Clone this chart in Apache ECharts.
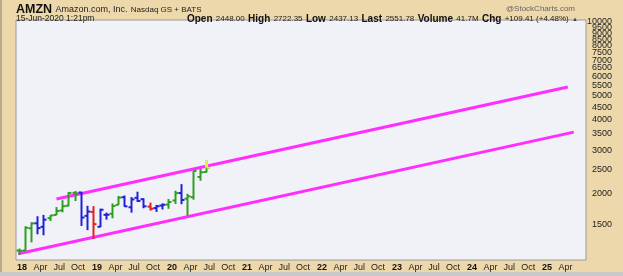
<!DOCTYPE html>
<html>
<head>
<meta charset="utf-8">
<script src="https://cdn.jsdelivr.net/npm/echarts@6/dist/echarts.min.js"></script>
<style>
html,body{margin:0;padding:0;background:#ecd8aa;}
#chart{width:623px;height:276px;}
</style>
</head>
<body>
<div id="chart"></div>
<script>
// Monthly bars, Dec 2017 .. Jun 2020 (mid-month positions)
const months = ['2017-12','2018-01','2018-02','2018-03','2018-04','2018-05','2018-06','2018-07','2018-08','2018-09','2018-10','2018-11','2018-12',
  '2019-01','2019-02','2019-03','2019-04','2019-05','2019-06','2019-07','2019-08','2019-09','2019-10','2019-11','2019-12',
  '2020-01','2020-02','2020-03','2020-04','2020-05','2020-06'];
const opens  = [1172.05,1172.00,1445.00,1513.60,1464.00,1589.00,1637.03,1707.00,1784.00,2014.00,2021.99,1623.53,1684.22,
  1465.20,1638.88,1655.13,1800.11,1933.09,1760.01,1922.98,1898.11,1770.00,1746.00,1788.01,1804.40,
  1875.00,2010.60,1906.49,1934.20,2336.80,2448.00];
const highs  = [1194.78,1472.58,1528.70,1617.54,1638.10,1635.00,1763.10,1880.05,2025.57,2050.50,2033.19,1784.00,1778.34,
  1736.41,1673.06,1823.75,1956.34,1964.40,1935.20,2035.80,1913.89,1838.32,1798.85,1824.69,1901.40,
  2055.72,2185.95,1996.33,2475.00,2525.45,2722.35];
const lows   = [1124.74,1170.51,1265.93,1365.20,1352.88,1546.02,1635.09,1678.06,1776.02,1865.00,1476.36,1420.00,1307.00,
  1460.93,1566.76,1586.57,1798.73,1767.17,1672.00,1849.44,1743.51,1705.00,1685.06,1722.71,1735.00,
  1815.34,1811.13,1626.03,1889.15,2256.38,2437.13];
const closes = [1169.47,1450.89,1512.45,1447.34,1566.13,1629.62,1699.80,1777.44,2012.71,2003.00,1598.01,1690.17,1501.97,
  1718.73,1639.83,1780.75,1926.52,1775.07,1893.63,1866.78,1776.29,1735.91,1776.66,1800.80,1847.84,
  2008.72,1883.75,1949.72,2474.00,2442.37,2551.78];
// Elder impulse state: g = green, b = blue, r = red
const impulse = ['g','g','g','b','b','g','g','g','g','g','b','b','r',
  'b','b','g','g','b','b','b','b','r','b','b','g',
  'g','b','g','g','g','g'];
// Trend channel lines (date, price)
const upperLine = [['2018-06-18',1900],['2025-04-12',5440]];
const lowerLine = [['2017-12-14',1137],['2025-05-11',3560]];
// Tick labels (the top two are split over two axes so both stay visible)
const yTicks = [10000,9000,8500,8000,7500,7000,6500,6000,5500,5000,4500,4000,3500,3000,2500,2000,1500];
const yTicksExtra = [9500];
const xTickDates = [];
for (let y = 2018; y <= 2025; y++) {
  for (const m of [0,3,6,9]) {
    if (y === 2025 && m > 3) continue;
    xTickDates.push([y, m]);
  }
}
const monthNames = {0:'',3:'Apr',6:'Jul',9:'Oct'};

const ts = s => { const p = s.split('-').map(Number); return Date.UTC(p[0], p[1]-1, p[2] || 15); };
const xTickValues = xTickDates.map(d => Date.UTC(d[0], d[1], 1));
const xTickLabel = {};
xTickDates.forEach(d => { xTickLabel[Date.UTC(d[0], d[1], 1)] = d[1] === 0 ? '{b|' + String(d[0]).slice(2) + '}' : monthNames[d[1]]; });

const colorMap = {g:'#2e9e22', b:'#2020d8', r:'#e0201c'};
const barData = months.map((m, i) => [ts(m), opens[i], highs[i], lows[i], closes[i], i]);

const chart = echarts.init(document.getElementById('chart'), null, {renderer:'canvas'});
const FONT = '"Liberation Sans", Arial, sans-serif';
const NARROW = '"Liberation Sans Narrow", "Liberation Sans", Arial, sans-serif';

const yAxisBase = (vals) => ({
  type: 'log', logBase: 10,
  position: 'right',
  min: 1073, max: 10189,
  splitLine: {show: false},
  axisLine: {show: false},
  axisTick: {show: false},
  axisLabel: {
    customValues: vals,
    showMinLabel: true, showMaxLabel: true, hideOverlap: false,
    align: 'right', margin: 26,
    fontFamily: FONT, fontSize: 9, color: '#222',
    formatter: v => String(Math.round(v))
  }
});

chart.setOption({
  backgroundColor: '#ecd8aa',
  animation: false,
  grid: {left: 16, right: 37, top: 20, bottom: 16, show: true, backgroundColor: '#f1f1f8', borderColor: '#9a9a9a', borderWidth: 1},
  xAxis: {
    type: 'value',
    min: Date.UTC(2017, 11, 2, 18),
    max: Date.UTC(2025, 6, 9, 16),
    splitLine: {show: false},
    axisLine: {show: false},
    axisTick: {show: false},
    axisLabel: {
      customValues: xTickValues,
      margin: 3, hideOverlap: false,
      fontFamily: FONT, fontSize: 9, color: '#222',
      formatter: v => xTickLabel[v] || '',
      rich: {b: {fontFamily: FONT, fontSize: 9, fontWeight: 'bold', color: '#111'}}
    }
  },
  yAxis: [yAxisBase(yTicks), yAxisBase(yTicksExtra)],
  series: [
    {type: 'line', data: upperLine.map(p => [ts(p[0]), p[1]]), symbol: 'none', silent: true,
     lineStyle: {color: '#ff2eff', width: 3}, z: 2},
    {type: 'line', data: lowerLine.map(p => [ts(p[0]), p[1]]), symbol: 'none', silent: true,
     lineStyle: {color: '#ff2eff', width: 3}, z: 2},
    {
      type: 'custom', z: 3, data: barData,
      encode: {x: 0, y: [1, 2, 3, 4]},
      renderItem: function (params, api) {
        const x = api.value(0), idx = api.value(5);
        const pO = api.coord([x, api.value(1)]);
        const pH = api.coord([x, api.value(2)]);
        const pL = api.coord([x, api.value(3)]);
        const pC = api.coord([x, api.value(4)]);
        const col = colorMap[impulse[idx]];
        const cx = Math.round(pH[0]) + 0.5;
        const st = {stroke: col, lineWidth: 2};
        const children = [
          {type: 'line', shape: {x1: cx, y1: pH[1], x2: cx, y2: pL[1]}, style: st},
          {type: 'line', shape: {x1: cx - 3, y1: pO[1], x2: cx, y2: pO[1]}, style: st},
          {type: 'line', shape: {x1: cx, y1: pC[1], x2: cx + 3, y2: pC[1]}, style: st}
        ];
        if (idx === months.length - 1) {
          children.push({type: 'line', shape: {x1: cx, y1: pH[1], x2: cx, y2: pC[1]}, style: {stroke: '#e4f03a', lineWidth: 3}});
          children.push({type: 'line', shape: {x1: cx, y1: pC[1], x2: cx + 3, y2: pC[1]}, style: {stroke: '#d8ec3a', lineWidth: 2}});
        }
        return {type: 'group', children: children};
      }
    }
  ],
  graphic: [
    {type: 'rect', left: 0, top: 272, shape: {width: 623, height: 4}, style: {fill: '#c8c8c8'}, silent: true},
    {type: 'rect', left: 0, top: 0, shape: {width: 2, height: 272}, style: {fill: '#b9aa88'}, silent: true},
    {type: 'text', left: 16, top: 3, style: {text: '{t|AMZN} {n|Amazon.com, Inc.} {s|Nasdaq GS + BATS}',
      rich: {
        t: {fontFamily: NARROW, fontSize: 12.5, fontWeight: 'bold', fill: '#111'},
        n: {fontFamily: FONT, fontSize: 9, fill: '#222'},
        s: {fontFamily: FONT, fontSize: 8, fill: '#222'}
      }}},
    {type: 'text', right: 48, top: 5, style: {text: '@StockCharts.com', fontFamily: FONT, fontSize: 8, fill: '#666'}},
    {type: 'text', left: 16, top: 14, style: {text: '15-Jun-2020 1:21pm', fontFamily: FONT, fontSize: 8.5, fill: '#222'}},
    {type: 'text', right: 45, top: 13, style: {
      text: '{l|Open} {v|2448.00} {l|High} {v|2722.35} {l|Low} {v|2437.13} {l|Last} {v|2551.78} {l|Volume} {v|41.7M} {l|Chg} {v|+109.41 (+4.48%)} {a|▲}',
      rich: {
        l: {fontFamily: NARROW, fontSize: 10, fontWeight: 'bold', fill: '#111'},
        v: {fontFamily: FONT, fontSize: 8, fill: '#222'},
        a: {fontFamily: FONT, fontSize: 6, fill: '#444'}
      }}}
  ]
});
</script>
</body>
</html>
